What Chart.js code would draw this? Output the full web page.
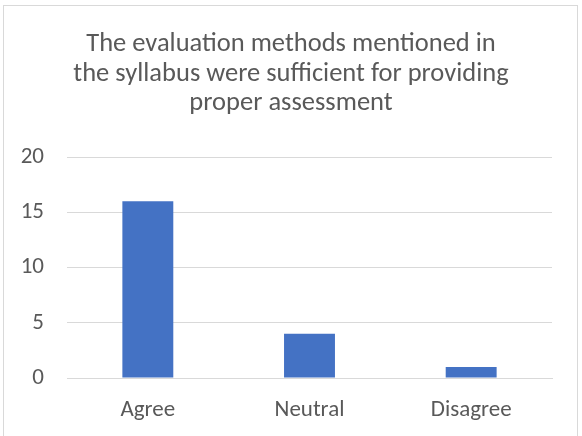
<!DOCTYPE html>
<html>
<head>
<meta charset="utf-8">
<script src="https://cdn.jsdelivr.net/npm/chart.js@4"></script>
<style>
  html, body { margin: 0; padding: 0; background: #ffffff; }
  #wrap { position: relative; width: 582px; height: 436px; overflow: hidden; }
  #frame {
    position: absolute; left: 3px; top: 5px; width: 575px; height: 440px;
    border: 1px solid #d9d9d9; box-sizing: border-box;
  }
  canvas { position: absolute; left: 0; top: 0; }
</style>
</head>
<body>
<div id="wrap">
  <div id="frame"></div>
  <canvas id="chart" width="582" height="436"></canvas>
</div>
<script>
  // data
  var categories = ['Agree', 'Neutral', 'Disagree'];
  var counts = [16, 4, 1];
  var titleLines = [
    'The evaluation methods mentioned in',
    'the syllabus were sufficient for providing',
    'proper assessment'
  ];

  var FONT = "Carlito, Calibri, Lato, sans-serif";
  var TEXT = '#595959';
  var GRID = '#d9d9d9';

  // title drawn by hand so the plot area can be placed exactly
  var titlePlugin = {
    id: 'topTitle',
    afterDraw: function (chart) {
      var ctx = chart.ctx;
      ctx.save();
      ctx.fillStyle = TEXT;
      ctx.font = '26.5px ' + FONT;
      ctx.textAlign = 'center';
      ctx.textBaseline = 'alphabetic';
      titleLines.forEach(function (line, i) {
        ctx.fillText(line, 291, 51 + i * 29.5);
      });
      ctx.restore();
    }
  };

  Chart.defaults.font.family = FONT;
  Chart.defaults.color = TEXT;

  new Chart(document.getElementById('chart'), {
    type: 'bar',
    data: {
      labels: categories,
      datasets: [{
        data: counts,
        backgroundColor: '#4472c4',
        borderWidth: 0,
        categoryPercentage: 1,
        barPercentage: 0.315
      }]
    },
    options: {
      responsive: false,
      animation: false,
      layout: { padding: { left: 0, right: 30, top: 157, bottom: 0 } },
      plugins: {
        legend: { display: false },
        tooltip: { enabled: false }
      },
      scales: {
        x: {
          grid: { display: false, drawTicks: false },
          border: { display: true, color: GRID, width: 1 },
          ticks: { color: TEXT, font: { size: 23 }, padding: 18 },
          afterFit: function (s) { s.height = 58; }
        },
        y: {
          min: 0,
          max: 20,
          grid: { color: GRID, drawTicks: false },
          border: { display: false },
          ticks: { stepSize: 5, color: TEXT, font: { size: 23 }, padding: 23 },
          afterFit: function (s) { s.width = 67; }
        }
      }
    },
    plugins: [titlePlugin]
  });
</script>
</body>
</html>
